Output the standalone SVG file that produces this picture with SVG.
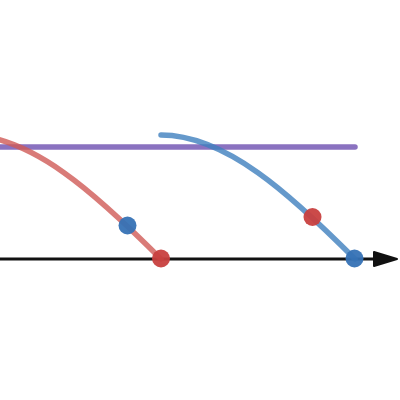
<svg xmlns="http://www.w3.org/2000/svg" width="400" height="400" viewBox="0 0 400 400">
<style>
.curve{fill:none;stroke-width:5.5;stroke-linecap:round;stroke-opacity:0.8}
.dot{stroke:none;fill-opacity:0.95}
</style>
<rect width="400" height="400" fill="#fff"/>
<g id="connectors">
<line id="axis" x1="0" y1="259" x2="378" y2="259" stroke="#111" stroke-width="3"/>
<polygon points="374,252 397,259 374,266" fill="#111" stroke="#111" stroke-width="2" stroke-linejoin="round"/>
<line id="level" x1="-5" y1="147" x2="355" y2="147" stroke="#8a72c0" stroke-width="5.5" stroke-linecap="round"/>
<path id="red-curve" class="curve" stroke="#d05a56" d="M-33,135 C31.67,135 96.33,194.07 161,259"/>
<path id="blue-curve" class="curve" stroke="#3f80be" d="M161,135 C225.67,135 290.33,194.07 355,259"/>
</g>
<g id="dot-blue-1"><circle class="dot" cx="127.5" cy="225.5" r="9" fill="#3672b5"/></g>
<g id="dot-red-1"><circle class="dot" cx="161" cy="258.5" r="9" fill="#c8403f"/></g>
<g id="dot-red-2"><circle class="dot" cx="312.5" cy="217" r="9" fill="#c8403f"/></g>
<g id="dot-blue-2"><circle class="dot" cx="354.5" cy="258.5" r="9" fill="#3672b5"/></g>
</svg>
